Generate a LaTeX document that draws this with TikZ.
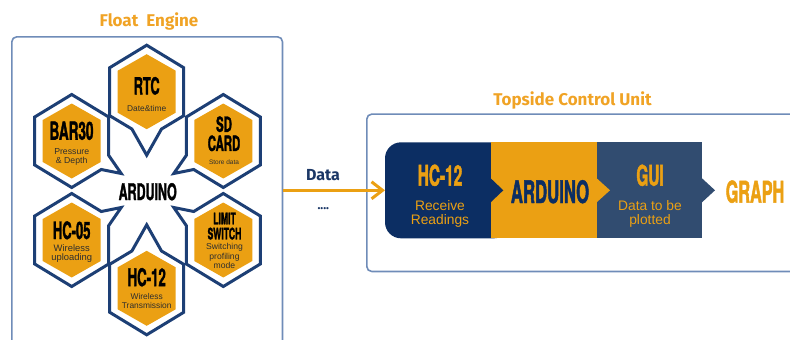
\documentclass[tikz,border=0pt]{standalone}
\usepackage{fontspec}
\setmainfont{Liberation Sans}
\newfontfamily\headfont{Fira Sans}
\newfontfamily\condfont{TeX Gyre Heros}[FakeStretch=0.54, FakeBold=1.4]
\usetikzlibrary{arrows.meta}

\definecolor{navyline}{HTML}{1D3F75}
\definecolor{hexorange}{HTML}{EBA013}
\definecolor{panelblue}{HTML}{6F8CB8}
\definecolor{blknavy}{HTML}{0C2E63}
\definecolor{blkslate}{HTML}{314C70}
\definecolor{titleorange}{HTML}{F0A325}
\definecolor{datanavy}{HTML}{1B3766}
\definecolor{subgray}{HTML}{2E2E2E}

\newcommand\capsize[1]{\condfont\bfseries\fontsize{#1}{#1}\selectfont}
\newcommand\smallsize[1]{\fontsize{#1}{#1}\selectfont}

\tikzset{
  panel/.style={draw=panelblue, line width=1.6pt, rounded corners=5pt, inner sep=0pt},
  hexline/.style={draw=navyline, fill=white, line width=3pt, line join=miter},
  hexfill/.style={fill=hexorange},
  capstext/.style={inner sep=0pt, text=black},
  subtext/.style={inner sep=0pt, text=subgray},
  blocktext/.style={inner sep=0pt, text=hexorange},
  headtext/.style={inner sep=0pt, text=titleorange, font=\headfont\bfseries\fontsize{17}{17}\selectfont},
  flowline/.style={draw=hexorange, line width=3.2pt, -{Straight Barb[length=11pt,width=17pt,line width=3pt]}},
  % hexagon cell whose spike points straight down
  hexdown/.pic={
    \path[hexline] (0,-46.5) -- (37,-24) -- (37,24) -- (14.8,37.3) -- (0,63.5)
      -- (-14.8,37.3) -- (-37,24) -- (-37,-24) -- cycle;
    \fill[hexfill] (0,-37.5) -- (29,-21) -- (29,21) -- (0,37.5) -- (-29,21) -- (-29,-21) -- cycle;
  },
  % hexagon cell whose spike points to the lower right
  hexside/.pic={
    \path[hexline] (0,-46.5) -- (37,-24) -- (37,14.4) -- (49.5,32.5) -- (29.6,28.5)
      -- (0,46.5) -- (-37,24) -- (-37,-24) -- cycle;
    \fill[hexfill] (0,-37.5) -- (29,-21) -- (29,21) -- (0,37.5) -- (-29,21) -- (-29,-21) -- cycle;
  }
}

\begin{document}
\begin{tikzpicture}[x=1pt, y=-1pt]
\path[use as bounding box] (0,0) rectangle (790,340);
\clip (0,0) rectangle (790,340);

% ---------- Float Engine ----------
\node[headtext] (fetitle) at (149,21.5) {Float\ \ Engine};
\node[panel, anchor=north west, minimum width=270.7pt, minimum height=400pt] (fe) at (11,36) {};

\pic at (146.7,91.7) {hexdown};
\pic[yscale=-1] at (146.7,288.3) {hexdown};
\pic at (71.7,141) {hexside};
\pic[xscale=-1] at (223.3,141) {hexside};
\pic[yscale=-1] at (71.7,240) {hexside};
\pic[xscale=-1,yscale=-1] at (223.3,240) {hexside};

\node[capstext, font=\capsize{23}] (ard) at (147.7,191.7) {ARDUINO};

\node[capstext, font=\capsize{23.5}] (rtc) at (146.7,85.8) {RTC};
\node[subtext, font=\smallsize{8.4}] (rtcsub) at (146.7,108.3) {Date\&time};

\node[capstext, font=\capsize{25}] (bar) at (71.5,130.8) {BAR30};
\node[subtext, font=\smallsize{8.7}] (barsuba) at (71.7,151.7) {Pressure};
\node[subtext, font=\smallsize{8.7}] (barsubb) at (71.7,161.5) {\& Depth};

\node[capstext, font=\capsize{21}] (sd) at (224,124.2) {SD};
\node[capstext, font=\capsize{21}] (card) at (224,143.3) {CARD};
\node[subtext, font=\smallsize{6.5}] (sdsub) at (224,162.3) {Store data};

\node[capstext, font=\capsize{24}] (hcf) at (71.7,230.3) {HC-05};
\node[subtext, font=\smallsize{9.4}] (hcfsuba) at (71.7,248.3) {Wireless};
\node[subtext, font=\smallsize{9.4}] (hcfsubb) at (71.7,258.3) {uploading};

\node[capstext, font=\capsize{16}] (limit) at (224.5,218.5) {LIMIT};
\node[capstext, font=\capsize{16}] (switch) at (224.5,233.6) {SWITCH};
\node[subtext, font=\smallsize{8.6}] (limsuba) at (224.5,247.3) {Switching};
\node[subtext, font=\smallsize{8.6}] (limsubb) at (224.5,257) {profiling};
\node[subtext, font=\smallsize{8.6}] (limsubc) at (224.5,265.7) {mode};

\node[capstext, font=\capsize{24.5}] (hct) at (146.7,277.2) {HC-12};
\node[subtext, font=\smallsize{8.4}] (hctsuba) at (146.7,296) {Wireless};
\node[subtext, font=\smallsize{8.4}] (hctsubb) at (146.7,305.2) {Transmission};

% ---------- Topside Control Unit ----------
\node[headtext] (tsutitle) at (572.5,100) {Topside Control Unit};
\node[panel, anchor=north west, minimum width=450pt, minimum height=157.4pt] (tsu) at (366,113.3) {};

\node[inner sep=0pt, anchor=west, minimum width=317pt, minimum height=96pt] (chain) at (385,190.3) {};

\fill[blknavy, rounded corners=16pt] (385,142.3) rectangle (510,238.3);
\fill[blkslate] (596.7,142.3) rectangle (702,238.3);
\fill[blkslate] (702,178.3) -- (715,190.3) -- (702,202.3) -- cycle;
\fill[hexorange] (490.7,142.3) rectangle (596.7,238.3);
\fill[hexorange] (596.7,178.3) -- (610,190.3) -- (596.7,202.3) -- cycle;
\fill[blknavy] (490.7,178.3) -- (503.3,190.3) -- (490.7,202.3) -- cycle;

\node[blocktext, font=\capsize{28.5}] (rxhc) at (440,175.3) {HC-12};
\node[blocktext, font=\smallsize{13.8}] (rxsuba) at (440,205.7) {Receive};
\node[blocktext, font=\smallsize{13.8}] (rxsubb) at (440,221) {Readings};

\node[inner sep=0pt, text=blknavy, font=\capsize{31}] (rxard) at (550,191.7) {ARDUINO};

\node[blocktext, font=\capsize{28.5}] (gui) at (650,175.3) {GUI};
\node[blocktext, font=\smallsize{13.8}] (guisuba) at (650,205.7) {Data to be};
\node[blocktext, font=\smallsize{13.8}] (guisubb) at (650,221) {plotted};

\node[blocktext, font=\capsize{30}] (graph) at (755,191.7) {GRAPH};

% ---------- link between the two units ----------
\node[inner sep=0pt, text=datanavy, font=\headfont\bfseries\fontsize{16}{16}\selectfont] (data) at (323,175.5) {Data};
\node[inner sep=0pt, text=datanavy, font=\headfont\bfseries\fontsize{12}{12}\selectfont] (dots) at (323.3,208.5) {....};
\draw[flowline] (fe.east |- chain.west) -- (chain.west);

\end{tikzpicture}
\end{document}
